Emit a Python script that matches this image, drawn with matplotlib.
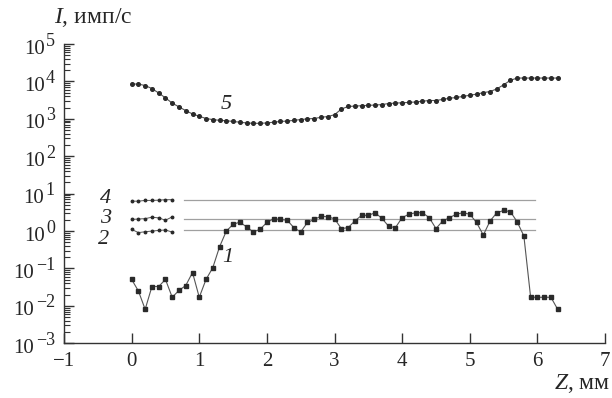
import numpy as np
import matplotlib
matplotlib.use("Agg")
import matplotlib.pyplot as plt
from matplotlib.ticker import LogLocator, FixedLocator, NullFormatter
from matplotlib.transforms import blended_transform_factory, offset_copy

plt.rcParams['font.family'] = ['Liberation Serif', 'DejaVu Serif']
plt.rcParams['mathtext.fontset'] = 'custom'
plt.rcParams['mathtext.rm'] = 'Liberation Serif'
plt.rcParams['mathtext.it'] = 'Liberation Serif:italic'

# ---- data ----
z = np.round(np.arange(64) * 0.1, 1)

curve1 = [0.051, 0.025, 0.0081, 0.033, 0.033, 0.051, 0.017, 0.026, 0.035, 0.078,
          0.017, 0.051, 0.105, 0.38, 1.0, 1.51, 1.74, 1.29, 0.95, 1.12,
          1.70, 2.14, 2.04, 1.95, 1.23, 0.95, 1.70, 2.04, 2.51, 2.40,
          2.14, 1.17, 1.23, 1.86, 2.63, 2.63, 3.09, 2.19, 1.35, 1.23,
          2.29, 2.82, 3.09, 3.09, 2.29, 1.17, 1.86, 2.29, 2.82, 3.09,
          2.82, 1.70, 0.78, 1.86, 3.09, 3.55, 3.31, 1.78, 0.74, 0.017,
          0.017, 0.017, 0.017, 0.0081]

curve5 = [8510, 8510, 7760, 6460, 4900, 3630, 2630, 2090, 1660, 1350,
          1175, 1020, 955, 912, 891, 851, 813, 776, 759, 759,
          776, 813, 851, 871, 912, 955, 1000, 1020, 1100, 1150,
          1290, 1820, 2140, 2190, 2240, 2290, 2340, 2400, 2570, 2630,
          2690, 2750, 2820, 2950, 3090, 3090, 3310, 3550, 3720, 3980,
          4270, 4570, 5010, 5370, 6310, 8130, 10700, 12300, 12300, 12300,
          12300, 12300, 12300, 12300]

z_short = [0.0, 0.1, 0.2, 0.3, 0.4, 0.5, 0.6]
curve2 = [1.11, 0.91, 0.96, 1.0, 1.04, 1.07, 0.94]
curve3 = [2.05, 2.1, 2.15, 2.35, 2.25, 1.95, 2.4]
curve4 = [6.3, 6.3, 6.6, 6.6, 6.7, 6.9, 6.9]

level_z = [0.78, 5.96]
levels = {'2': 1.04, '3': 2.14, '4': 6.7}

xticks = [-1, 0, 1, 2, 3, 4, 5, 6, 7]
xtick_labels = ['\u22121', '0', '1', '2', '3', '4', '5', '6', '7']
yticks = [1e-3, 1e-2, 1e-1, 1e0, 1e1, 1e2, 1e3, 1e4, 1e5]
ytick_exps = ['\u22123', '\u22122', '\u22121', '0', '1', '2', '3', '4', '5']

# ---- figure ----
fig = plt.figure(figsize=(6.12, 3.98), dpi=100)
ax = fig.add_axes([0.1046, 0.1374, 0.884, 0.752])

txt = '#262626'
mk = '#2a2a2a'

ax.set_yscale('log')
ax.set_xlim(-1, 7)
ax.set_ylim(1e-3, 1e5)

# reference levels
for k, v in levels.items():
    ax.plot(level_z, [v, v], color='#a0a0a0', lw=0.9, zorder=1)

ax.plot(z, curve5, color='#555555', lw=0.8, marker='o', ms=2.6,
        mfc=mk, mec=mk, zorder=3)
ax.plot(z, curve1, color='#555555', lw=0.8, marker='s', ms=2.8,
        mfc=mk, mec=mk, zorder=3)
for c in (curve2, curve3, curve4):
    ax.plot(z_short, c, color='#555555', lw=0.7, marker='o', ms=1.8,
            mfc=mk, mec=mk, zorder=3)

# curve labels
lab = dict(fontsize=16, style='italic', color=txt, ha='center', va='center')
ax.text(1.40, 10**3.38, '5', **lab)
ax.text(1.42, 10**-0.70, '1', **lab)
ax.text(-0.38, 10**0.87, '4', **lab)
ax.text(-0.38, 10**0.34, '3', **lab)
ax.text(-0.41, 10**-0.22, '2', **lab)

# axes styling
for s in ('top', 'right'):
    ax.spines[s].set_visible(False)
for s in ('left', 'bottom'):
    ax.spines[s].set_linewidth(1.0)
    ax.spines[s].set_color('#333333')

ax.xaxis.set_major_locator(FixedLocator(xticks))
ax.set_xticklabels(xtick_labels)
ax.yaxis.set_major_locator(FixedLocator(yticks))
ax.set_yticklabels([''] * len(yticks))
ax.yaxis.set_minor_locator(LogLocator(base=10, subs=np.arange(2, 10), numticks=20))
ax.yaxis.set_minor_formatter(NullFormatter())

ax.tick_params(axis='both', which='major', direction='in', length=7, width=1.0,
               colors='#333333', labelsize=15, labelcolor=txt)
ax.tick_params(axis='y', which='minor', direction='in', length=4, width=0.8,
               colors='#333333')
ax.tick_params(axis='x', which='major', pad=6)

# y tick labels as 10 with a raised exponent
trans = blended_transform_factory(ax.transAxes, ax.transData)
exp_trans = offset_copy(trans, fig=fig, x=-9, y=3, units='dots')
for v, e in zip(yticks, ytick_exps):
    t_exp = ax.text(0, v, e, transform=exp_trans, ha='right', va='center',
                    fontsize=13, color=txt, clip_on=False)
    ax.annotate('10', xy=(0, 0.5), xycoords=t_exp, xytext=(-1.5, -8),
                textcoords='offset pixels', ha='right', va='center',
                fontsize=15, color=txt, annotation_clip=False)

# axis titles
fig.text(0.088, 0.955, r'$I$, имп/с', fontsize=17, color=txt, ha='left', va='center')
fig.text(0.998, 0.036, r'$Z$, мм', fontsize=17, color=txt, ha='right', va='center')

fig.savefig('out.png', dpi=100)
